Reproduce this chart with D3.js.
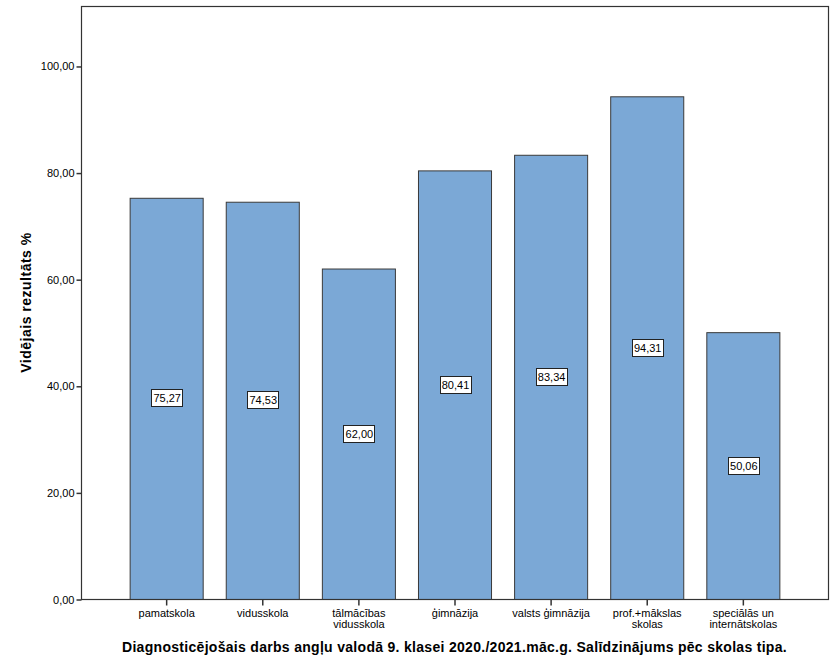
<!DOCTYPE html>
<html><head><meta charset="utf-8">
<script src="https://cdn.jsdelivr.net/npm/d3@7"></script>
<style>body{margin:0;background:#fff}</style>
</head><body>
<script>
const categories = ["pamatskola","vidusskola","tālmācības\nvidusskola","ģimnāzija","valsts ģimnāzija","prof.+mākslas\nskolas","speciālās un\ninternātskolas"];
const values = [75.27, 74.53, 62.00, 80.41, 83.34, 94.31, 50.06];
const yTicks = [0, 20, 40, 60, 80, 100];
const yTitle = "Vidējais rezultāts %";
const xTitle = "Diagnosticējošais darbs angļu valodā 9. klasei 2020./2021.māc.g. Salīdzinājums pēc skolas tipa.";

const W = 837, H = 670;
const m = {l: 81, r: 9, t: 6, b: 71};
const svg = d3.select("body").append("svg").attr("width", W).attr("height", H)
  .style("font-family", "'Liberation Sans', Arial, sans-serif");

const x = d3.scaleBand().domain(categories).range([m.l, W - m.r]).paddingInner(0.24).paddingOuter(0.506);
const y = d3.scaleLinear().domain([0, 111.25]).range([H - m.b, m.t]);
const fmt = v => v.toFixed(2).replace(".", ",");

// bars
svg.append("g").selectAll("rect").data(values).join("rect")
  .attr("x", (d, i) => x(categories[i]) + 0.5)
  .attr("y", d => y(d) + 0.5)
  .attr("width", x.bandwidth())
  .attr("height", d => y(0) - y(d))
  .attr("fill", "#7ba8d6").attr("stroke", "#3a3a3a").attr("stroke-width", 1);

// frame
svg.append("rect").attr("x", m.l + 0.5).attr("y", m.t + 0.5)
  .attr("width", W - m.r - m.l).attr("height", y(0) - m.t)
  .attr("fill", "none").attr("stroke", "#333").attr("stroke-width", 1.2);

// y axis
const ya = svg.append("g").attr("transform", `translate(${m.l + 0.5},0.5)`)
  .call(d3.axisLeft(y).tickValues(yTicks).tickFormat(fmt).tickSize(5).tickPadding(2));
ya.select(".domain").remove();
ya.selectAll("line").attr("stroke", "#333").attr("stroke-width", 1.5);
ya.selectAll("text").attr("font-size", 11).attr("fill", "#000").attr("font-family", "'Liberation Sans', Arial, sans-serif");

// x axis
const xa = svg.append("g").attr("transform", `translate(0.5,${y(0) + 0.5})`)
  .call(d3.axisBottom(x).tickSize(6).tickFormat(""));
xa.select(".domain").remove();
xa.selectAll("line").attr("stroke", "#333").attr("stroke-width", 1.5);
categories.forEach(c => {
  const lines = c.split("\n");
  const t = svg.append("text").attr("x", x(c) + x.bandwidth() / 2 + 0.5).attr("y", y(0) + 18)
    .attr("text-anchor", "middle").attr("font-size", 11).attr("fill", "#000");
  lines.forEach((l, k) => t.append("tspan").attr("x", x(c) + x.bandwidth() / 2 + 0.5).attr("dy", k ? 11 : 0).text(l));
});

// value labels
values.forEach((v, i) => {
  const cx = x(categories[i]) + x.bandwidth() / 2 + 0.5;
  const cy = (y(v) + y(0)) / 2;
  const g = svg.append("g");
  g.append("rect").attr("x", Math.round(cx - 15.5) + 0.5).attr("y", Math.round(cy - 9) + 0.5)
    .attr("width", 31).attr("height", 17).attr("fill", "#fff").attr("stroke", "#222").attr("stroke-width", 1);
  g.append("text").attr("x", cx + 0.5).attr("y", cy + 4).attr("text-anchor", "middle")
    .attr("font-size", 11).attr("fill", "#000").text(fmt(v));
});

// titles
svg.append("text").attr("transform", `translate(31,${(m.t + y(0)) / 2}) rotate(-90)`)
  .attr("text-anchor", "middle").attr("font-size", 14).attr("font-weight", "bold")
  .attr("letter-spacing", 0.5).text(yTitle);
svg.append("text").attr("x", (m.l + W - m.r) / 2).attr("y", 652)
  .attr("text-anchor", "middle").attr("font-size", 14).attr("font-weight", "bold")
  .attr("letter-spacing", 0.3).text(xTitle);
</script>
</body></html>
